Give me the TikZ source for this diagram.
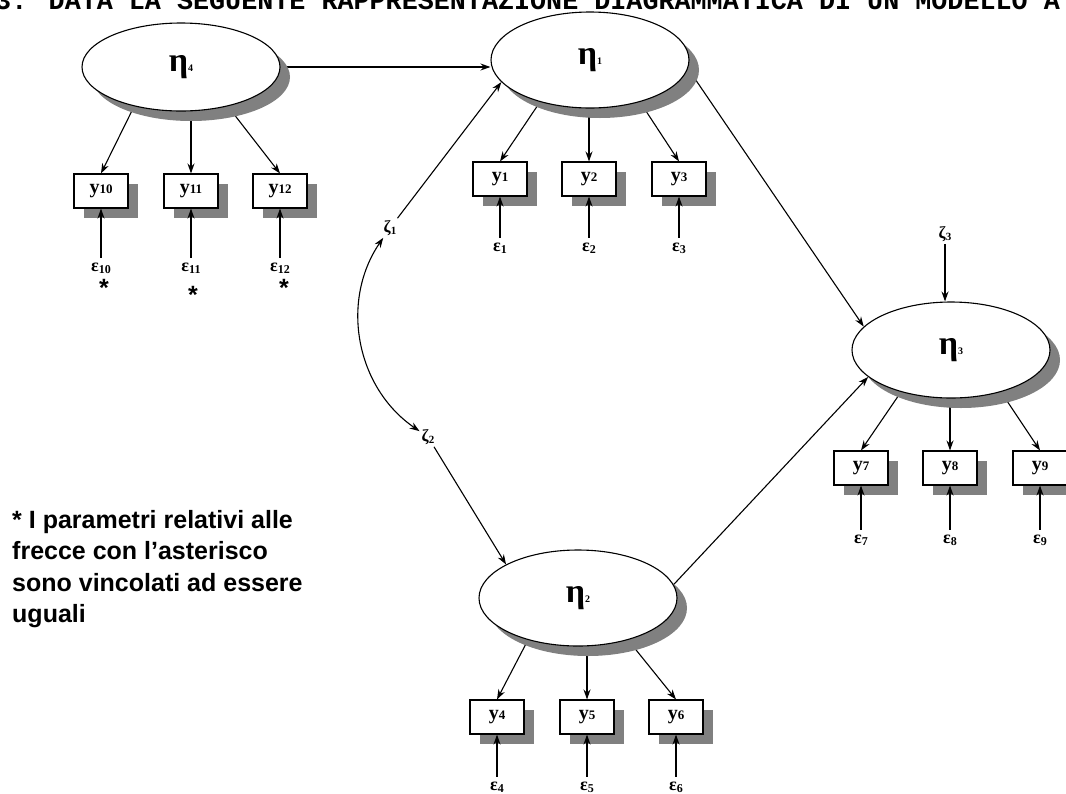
\documentclass[tikz,border=0pt]{standalone}
\usepackage{fontspec}
\setmainfont{Liberation Serif}
\newfontfamily\notefont{Liberation Sans}
\newfontfamily\headfont{Liberation Mono}
\usetikzlibrary{arrows.meta, shapes.geometric, shadows, backgrounds}

\newcommand{\etalab}[1]{\textbf{{\fontsize{34}{34}\selectfont η}{\fontsize{10}{10}\selectfont #1}}}
\newcommand{\ylab}[1]{\textbf{{\fontsize{20}{20}\selectfont y}{\fontsize{13}{13}\selectfont #1}}}
\newcommand{\epslab}[1]{\textbf{{\fontsize{18}{18}\selectfont ε}\raisebox{-2pt}{\fontsize{12}{12}\selectfont #1}}}
\newcommand{\zetalab}[1]{\textbf{{\fontsize{17}{17}\selectfont ζ}\raisebox{-2pt}{\fontsize{11}{11}\selectfont #1}}}

\begin{document}
\begin{tikzpicture}[x=1pt, y=-1pt, >={Stealth[length=10pt,width=7pt]},
  latent/.style={ellipse, draw, line width=1.1pt, fill=white, minimum width=198pt, minimum height=96pt, inner sep=0pt, drop shadow={shadow xshift=10pt, shadow yshift=-10pt, fill=gray, opacity=1}},
  observed/.style={rectangle, draw, line width=1.1pt, fill=white, minimum width=54pt, minimum height=34pt, inner sep=0pt, drop shadow={shadow xshift=10pt, shadow yshift=-10pt, fill=gray, opacity=1}},
  errnode/.style={inner sep=5pt},
  star/.style={anchor=base, inner sep=0pt, font=\notefont\bfseries\fontsize{25}{25}\selectfont},
  link/.style={->, line width=1.1pt}]
  \useasboundingbox (0,0) rectangle (1066,793);
  \clip (0,0) rectangle (1066,793);

  \node[anchor=base west, inner sep=0pt, font=\headfont\bfseries\fontsize{26.75}{30}\selectfont] (title) at (-5,9) {3. DATA LA SEGUENTE RAPPRESENTAZIONE DIAGRAMMATICA DI UN MODELLO A};

  \node[latent, minimum height=88pt] (eta4) at (181,67) {\etalab{4}};
  \node[latent] (eta1) at (590,60) {\etalab{1}};
  \node[latent] (eta3) at (951,350) {\etalab{3}};
  \node[latent] (eta2) at (578,598) {\etalab{2}};

  \node[observed] (y10) at (101,191) {\ylab{10}};
  \node[observed] (y11) at (191,191) {\ylab{11}};
  \node[observed] (y12) at (280,191) {\ylab{12}};

  \node[observed] (y1) at (500,179) {\ylab{1}};
  \node[observed] (y2) at (589,179) {\ylab{2}};
  \node[observed] (y3) at (679,179) {\ylab{3}};

  \node[observed] (y7) at (861,468) {\ylab{7}};
  \node[observed] (y8) at (950,468) {\ylab{8}};
  \node[observed] (y9) at (1040,468) {\ylab{9}};

  \node[observed] (y4) at (497,717) {\ylab{4}};
  \node[observed] (y5) at (587,717) {\ylab{5}};
  \node[observed] (y6) at (676,717) {\ylab{6}};

  \node[errnode] (e10) at (101,268) {\epslab{10}};
  \node[errnode] (e11) at (191,268) {\epslab{11}};
  \node[errnode] (e12) at (280,268) {\epslab{12}};
  \node[errnode] (e1) at (500,248) {\epslab{1}};
  \node[errnode] (e2) at (589,248) {\epslab{2}};
  \node[errnode] (e3) at (679,248) {\epslab{3}};
  \node[errnode] (e7) at (861,540) {\epslab{7}};
  \node[errnode] (e8) at (950,540) {\epslab{8}};
  \node[errnode] (e9) at (1040,540) {\epslab{9}};
  \node[errnode] (e4) at (497,787) {\epslab{4}};
  \node[errnode] (e5) at (587,787) {\epslab{5}};
  \node[errnode] (e6) at (676,787) {\epslab{6}};

  \node[star] (s10) at (104,296) {*};
  \node[star] (s11) at (193,303) {*};
  \node[star] (s12) at (284,296) {*};

  \node[inner sep=2pt] (z1) at (390,228) {\zetalab{1}};
  \node[inner sep=2pt] (z2) at (428,437) {\zetalab{2}};
  \node[inner sep=2pt] (z3) at (945,234) {\zetalab{3}};

  \node[anchor=north west, inner sep=0pt, align=left, font=\notefont\bfseries\fontsize{25}{31.5}\selectfont] (note) at (12,510) {* I parametri relativi alle\\frecce con l’asterisco\\sono vincolati ad essere\\uguali};

  \begin{scope}[on background layer]
    \draw[link] (eta4.east) -- (eta4.east -| eta1.west);
    \draw[link] (eta1.-5) -- (eta3.165);
    \draw[link] (eta2.8) -- (eta3.198);
    \draw[link] (eta4.-140) -- (y10.north);
    \draw[link] (eta4.south -| y11.north) -- (y11.north);
    \draw[link] (eta4.-40) -- (y12.north);
    \draw[link] (eta1.-140) -- (y1.north);
    \draw[link] (eta1.south -| y2.north) -- (y2.north);
    \draw[link] (eta1.-40) -- (y3.north);
    \draw[link] (eta3.-140) -- (y7.north);
    \draw[link] (eta3.south -| y8.north) -- (y8.north);
    \draw[link] (eta3.-40) -- (y9.north);
    \draw[link] (eta2.-140) -- (y4.north);
    \draw[link] (eta2.south -| y5.north) -- (y5.north);
    \draw[link] (eta2.-40) -- (y6.north);
  \end{scope}

  \draw[link] (z1) -- (eta1.194);
  \draw[link] (z2) -- (eta2.155);
  \draw[link] (z3) -- (eta3.north -| z3);
  \draw[<->, line width=1.1pt] (z1) to[bend right=45] (z2);

  \draw[link] (e10) -- (y10);
  \draw[link] (e11) -- (y11);
  \draw[link] (e12) -- (y12);
  \draw[link] (e1) -- (y1);
  \draw[link] (e2) -- (y2);
  \draw[link] (e3) -- (y3);
  \draw[link] (e7) -- (y7);
  \draw[link] (e8) -- (y8);
  \draw[link] (e9) -- (y9);
  \draw[link] (e4) -- (y4);
  \draw[link] (e5) -- (y5);
  \draw[link] (e6) -- (y6);
\end{tikzpicture}
\end{document}
